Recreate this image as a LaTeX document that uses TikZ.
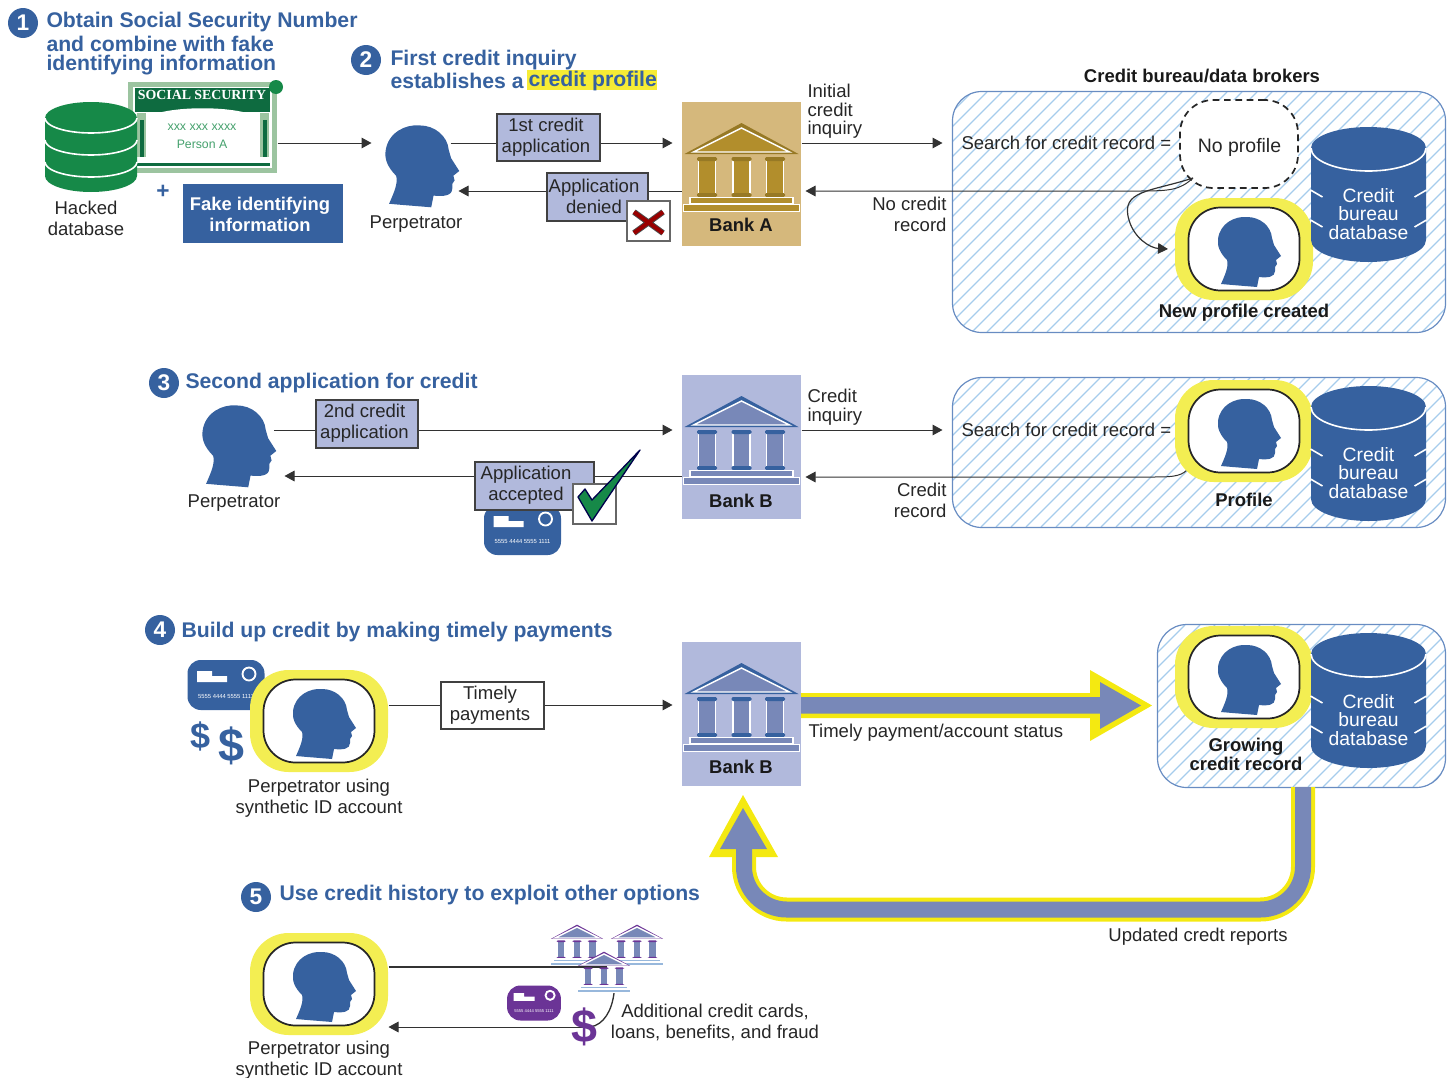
\documentclass[tikz,border=0pt]{standalone}
\usepackage{fontspec}
\setmainfont{Liberation Sans}
\newfontfamily\cardserif{Liberation Serif}
\usetikzlibrary{arrows.meta}

\definecolor{sfblue}{RGB}{54,97,159}
\definecolor{boxlilac}{RGB}{177,185,220}
\definecolor{arrowgrey}{RGB}{120,136,184}
\definecolor{framey}{RGB}{243,238,82}
\definecolor{arrowy}{RGB}{244,233,17}
\definecolor{hatchblue}{RGB}{166,204,236}
\definecolor{edgeblue}{RGB}{104,140,194}
\definecolor{banktan}{RGB}{213,184,124}
\definecolor{bankgold}{RGB}{178,142,44}
\definecolor{dbgreen}{RGB}{22,137,72}
\definecolor{ssndark}{RGB}{14,107,64}
\definecolor{ssnpale}{RGB}{156,196,160}
\definecolor{cardpurple}{RGB}{107,52,150}
\definecolor{linegrey}{RGB}{50,50,50}

\tikzset{every picture/.style={line width=0.75pt}}
\tikzset{
  every pic/.style={yscale=-1},
  boxsize/.style 2 args={minimum width=#1*0.75pt,minimum height=#2*0.75pt,inner sep=0pt},
  lab/.style={font=\fontsize{13.9}{15.8}\selectfont,text=black!85,align=center,inner sep=0pt,yshift=-1.8pt},
  labtight/.style={font=\fontsize{13.9}{13.9}\selectfont,text=black!85,inner sep=0pt,yshift=-1.5pt},
  labbold/.style={font=\bfseries\fontsize{13.85}{14}\selectfont,text=black!90,align=center,inner sep=0pt,yshift=-0.5pt},
  stephead/.style={font=\bfseries\fontsize{15.9}{16}\selectfont,text=sfblue,anchor=west,inner sep=0pt,yshift=-1pt},
  stepdot/.style={circle,fill=sfblue,text=white,font=\bfseries\fontsize{17}{17}\selectfont,minimum size=22.5pt,inner sep=0pt},
  flow/.style={-{Triangle[length=7.5pt,width=8pt]},line width=0.75pt,color=linegrey},
  appbox/.style={draw=black!75,fill=boxlilac,line width=0.9pt},
  panel/.style={draw=edgeblue,line width=0.9pt,rounded corners=22pt},
  hatch/.style={draw=hatchblue,line width=0.95pt},
  % bank colours, blue is the plain look
  bankdark/.style={fill=sfblue},
  bankmid/.style={fill=arrowgrey},
  bankstep/.style={fill=arrowgrey},
  goldbank/.style={bankdark/.style={fill=bankgold!85!black},bankmid/.style={fill=bankgold},bankstep/.style={fill=bankgold}},
  purplebank/.style={bankdark/.style={fill=cardpurple},bankmid/.style={fill=arrowgrey},bankstep/.style={fill=hatchblue!70!arrowgrey}},
  head/.pic={
    \fill[sfblue] (-29,34) .. controls (-25,25) and (-21,16) .. (-23,10)
      .. controls (-30,3) and (-33,-4) .. (-32,-11)
      .. controls (-30,-27) and (-15,-34) .. (-3,-33)
      .. controls (10,-33) and (21,-24) .. (22,-12)
      -- (24,-5) -- (31,6) -- (26,10) -- (27,14) -- (25,17) -- (25,21)
      .. controls (25,27) and (18,28) .. (9,27) -- (7,37) .. controls (-5,36) and (-18,35) .. (-29,34) -- cycle;
  },
  framedhead/.pic={
    \node (-out) [boxsize={138}{102},fill=framey,rounded corners=29pt] at (0,0) {};
    \node (-in) [boxsize={111}{83},fill=white,draw=black!85,line width=1.3pt,rounded corners=24pt] at (0,0) {};
    \pic at (6,1) {head};
  },
  db/.pic={
    \fill[sfblue] (-57.5,21) -- (-57.5,113) arc[start angle=180,end angle=0,x radius=57.5,y radius=22] -- (57.5,21) arc[start angle=0,end angle=-180,x radius=57.5,y radius=21] -- cycle;
    \draw[white,line width=1.2pt] (-57.5,21) arc[start angle=180,end angle=0,x radius=57.5,y radius=23];
    \foreach \yy in {63,93} {
      \draw[white,line width=1.2pt] (-58,\yy) -- (-46,\yy+7);
      \draw[white,line width=1.2pt] (58,\yy) -- (46,\yy+7);
    }
    \node (-name) [labtight,font=\fontsize{14.5}{13.9}\selectfont,align=center,text=white] at (0,85) {Credit\\bureau\\database};
  },
  numfont/.style={font=\fontsize{4.4}{5}\selectfont},
  cardicon/.pic={
    \fill[#1,rounded corners=10pt] (-38.5,-25) rectangle (38.5,25);
    \fill[white] (-29,-14) -- (-14,-14) -- (-14,-9) -- (1,-9) -- (1,-3) -- (-29,-3) -- cycle;
    \draw[white,line width=1.4pt] (23,-11) circle (6.5);
    \node (-num) [numfont,text=white,inner sep=0pt] at (0,12) {5555 4444 5555 1111};
  },
  bankicon/.pic={
    \path[bankdark] (0,21) -- (57,52) -- (-57,52) -- cycle;
    \path[bankmid,draw=white,line width=1.1pt] (0,26) -- (48,50) -- (-48,50) -- cycle;
    \foreach \cx in {-34.5,0,33.5} {
      \path[bankmid,draw=white,line width=0.9pt] (\cx-8.5,58) rectangle (\cx+8.5,92);
      \path[bankdark,rounded corners=1pt] (\cx-10,55) rectangle (\cx+10,59);
      \path[bankdark,rounded corners=1pt] (\cx-10,91) rectangle (\cx+10,95);
    }
    \path[bankstep,draw=white,line width=0.9pt] (-51.5,95.5) rectangle (51.5,102);
    \path[bankstep,draw=white,line width=0.9pt] (-58,102.5) rectangle (58,109.5);
  }
}
% hatching of a panel: panel name, left start, bottom, height
\newcommand{\hatchpanel}[4]{
	\begin{scope}
	\clip[rounded corners=22pt] (#1.south west) rectangle (#1.north east);
	\foreach \ii in {0,...,52} {\draw[hatch] (#2+15*\ii,#3) -- (#2+#4+15*\ii,#3-#4);}
	\end{scope}
	\draw[panel] (#1.south west) rectangle (#1.north east);
}

\begin{document}
\begin{tikzpicture}[x=0.75pt,y=0.75pt,yscale=-1,xscale=1]
	\useasboundingbox (0,0) rectangle (1453,1078);

	%rows of the connectors
	\coordinate (rowa) at (0,143);
	\coordinate (rowb) at (0,191);
	\coordinate (rowc) at (0,430);
	\coordinate (rowd) at (0,477);
	\coordinate (rowe) at (0,705);
	\coordinate (rowf) at (0,967);
	\coordinate (rowg) at (0,1027);

	%Panels
	\node (panela) [boxsize={492}{240}] at (1199,212) {};
	\node (panelb) [boxsize={492}{149}] at (1199,452.5) {};
	\node (panelc) [boxsize={287}{162}] at (1301.5,706) {};
	\hatchpanel{panela}{702}{332}{240}
	\hatchpanel{panelb}{801}{527}{149}
	\hatchpanel{panelc}{993}{787}{162}
	% Text Node
	\node (brokers) [labbold] at (1202,75) {Credit bureau/data brokers};

	%Banks
	\node (banka) [boxsize={119}{144},fill=banktan] at (741.5,174) {};
	\node (bankb) [boxsize={119}{144},fill=boxlilac] at (741.5,447) {};
	\node (bankc) [boxsize={119}{144},fill=boxlilac] at (741.5,714) {};
	\pic [goldbank] at (741.5,102) {bankicon};
	\pic at (741.5,375) {bankicon};
	\pic at (741.5,642) {bankicon};
	\node (banknamea) [labbold] at (741,224) {Bank A};
	\node (banknameb) [labbold] at (741,500) {Bank B};
	\node (banknamec) [labbold] at (741,766) {Bank B};

	%Head spots that the connectors stop at
	\node (perpa) [boxsize={86}{82}] at (415,164) {};
	\node (perpb) [boxsize={81}{82}] at (243.5,444) {};

	%Step 1
	\node (dota) [stepdot] at (23,23) {1};
	\node (headaa) [stephead] at (46,21) {Obtain Social Security Number};
	\node (headab) [stephead] at (46,43) {and combine with fake};
	\node (headac) [stephead] at (46,64) {identifying information};
	\node (ssn) [boxsize={149}{91},fill=ssnpale] at (202.5,127.5) {};
	\fill[white] (133,87) rectangle (272,168);
	\fill[ssndark] (135,88) rectangle (270,112);
	\fill[white] (146,118) .. controls (165,105) and (240,105) .. (259,118) -- (259,160) -- (146,160) -- cycle;
	\fill[ssnpale] (137,113) rectangle (146,157);
	\fill[ssnpale] (260,113) rectangle (269,157);
	\fill[ssndark] (140,120) rectangle (144,157);
	\fill[ssndark] (263,120) rectangle (267,157);
	\fill[ssndark] (135,163) rectangle (270,166);
	\node (ssndot) [circle,fill=dbgreen,minimum size=10.5pt,inner sep=0pt] at (276,87) {};
	\node (ssnname) [font=\cardserif\bfseries\fontsize{10.4}{11}\selectfont,text=white,inner sep=0pt] at (202,95) {SOCIAL SECURITY};
	\node (ssnnum) [font=\fontsize{9.3}{10}\selectfont,text=dbgreen!80!white,inner sep=0pt] at (202,127) {xxx xxx xxxx};
	\node (ssnperson) [font=\fontsize{9.2}{10}\selectfont,text=dbgreen!80!white,inner sep=0pt] at (202,144) {Person A};

	%Shape: green database
	\fill[dbgreen] (45,118) -- (45,176) arc[start angle=180,end angle=0,x radius=46,y radius=16] -- (137,118) arc[start angle=0,end angle=-180,x radius=46,y radius=16] -- cycle;
	\foreach \yy in {118,140,162} {
		\draw[white,line width=1.2pt] (45,\yy) arc[start angle=180,end angle=0,x radius=46,y radius=15];
	}
	\node (hacked) [lab] at (86,216) {Hacked\\database};
	\node (plus) [font=\bfseries\fontsize{17}{17}\selectfont,text=sfblue,inner sep=0pt] at (163,192) {+};
	\node (fake) [boxsize={160}{59},fill=sfblue] at (263,213.5) {};
	\node (fakename) [lab,font=\bfseries\fontsize{13.8}{15.8}\selectfont,text=white] at (260,212) {Fake identifying\\information};

	\draw[flow] (ssn.east |- rowa) -- (perpa.west |- rowa);

	%Step 2
	\node (dotb) [stepdot] at (366,60) {2};
	\node (headba) [stephead] at (390,59) {First credit inquiry};
	\node (highlight) [boxsize={130}{20},fill=arrowy!85!white] at (592,80) {};
	\node (headbb) [stephead] at (390,80) {establishes a};
	\node (headbc) [stephead] at (528,80) {credit profile};
	\draw[flow,shorten <=-6pt,shorten >=6.75pt] (perpa.east |- rowa) -- (banka.west |- rowa);
	\draw[flow] (banka.west |- rowb) -- (perpa.east |- rowb);
	\pic [scale=1.17] at (423,164) {head};
	\node (perpaname) [lab] at (416,222) {Perpetrator};
	\node (firstapp) [appbox,boxsize={103}{47}] at (548.5,137.5) {};
	\node (firstname) [lab] at (546,135) {1st credit\\application};
	\node (denied) [appbox,boxsize={101}{48}] at (597.5,197) {};
	\node (deniedname) [lab] at (594,194) {Application\\denied};
	\node (crossbox) [boxsize={43}{40},fill=white,draw=black!60,line width=0.9pt] at (648.5,221) {};
	\draw[black!70,line width=4.4pt] (634,212) -- (663,233) (663,212) -- (634,233);
	\draw[red!60!black,line width=3pt] (634,212) -- (663,233) (663,212) -- (634,233);

	%Connectors to the bureau
	\draw[flow,shorten >=7.5pt] (banka.east |- rowa) -- (panela.west |- rowa);
	\node (inita) [labtight,align=left,anchor=north west] at (807,82) {Initial\\credit\\inquiry};
	\node (searcha) [lab,anchor=west] at (961,140.5) {Search for credit record =};
	\node (noprofile) [boxsize={118}{88},fill=white,draw=black!85,dash pattern=on 5pt off 3.5pt,line width=1.3pt,rounded corners=25pt] at (1239,144) {};
	\node (noprofilename) [lab,font=\fontsize{14.6}{15.8}\selectfont] at (1239.5,145) {No profile};
	\coordinate (noptail) at (1193,178);
	\draw[flow,shorten >=3pt] (noptail) .. controls (1180,190) and (1170,191) .. (1140,191) -- (banka.east |- rowb);
	\coordinate (newtip) at (1168,249);
	\draw[flow,line width=0.9pt] (noptail) .. controls (1150,192) and (1120,190) .. (1129,220) .. controls (1134,238) and (1150,248) .. (newtip);
	\node (nocredit) [lab,align=right,anchor=east] at (947,212) {No credit\\record};
	\pic (framea) at (1244,249) {framedhead};
	\pic at (1368.5,127) {db};
	\node (newprofile) [labbold] at (1244,312) {New profile created};

	%Step 3
	\node (dotc) [stepdot] at (164,383) {3};
	\node (headc) [stephead] at (185,382) {Second application for credit};
	\draw[flow,shorten <=-8pt,shorten >=6.75pt] (perpb.east |- rowc) -- (bankb.west |- rowc);
	\draw[flow] (bankb.west |- rowd) ++(0,-1) -- (perpb.east |- 0,476);
	\pic [scale=1.17] at (240,444) {head};
	\node (perpbname) [lab] at (234,501) {Perpetrator};
	\node (secondapp) [appbox,boxsize={102}{48}] at (367,424) {};
	\node (secondname) [lab] at (364.5,421) {2nd credit\\application};
	\pic (cardb) at (522.5,530) {cardicon=sfblue};
	\node (accepted) [appbox,boxsize={119}{48}] at (534.5,486) {};
	\node (acceptedname) [lab] at (526,483) {Application\\accepted};
	\node (checkbox) [boxsize={43}{40},fill=white,draw=black!60,line width=0.9pt] at (594.5,504) {};
	\draw[draw=black!70!blue,fill=dbgreen,line width=1pt,line join=round] (578,497) -- (585,489) -- (592,500) -- (640,450) -- (592,521) -- cycle;

	\draw[flow,shorten >=7.5pt] (bankb.east |- rowc) -- (panelb.west |- rowc);
	\node (inqb) [labtight,align=left,anchor=north west] at (807,387) {Credit\\inquiry};
	\node (searchb) [lab,anchor=west] at (961,427.5) {Search for credit record =};
	\coordinate (proftail) at (1187,470);
	\draw[flow,shorten >=3pt] (proftail) .. controls (1180,477) and (1170,477) .. (1150,477) -- (bankb.east |- rowd);
	\node (recordb) [lab,align=right,anchor=east] at (947,498) {Credit\\record};
	\pic (frameb) at (1244,431) {framedhead};
	\pic at (1368.5,386) {db};
	\node (profile) [labbold] at (1244,499) {Profile};

	%Step 4
	\node (dotd) [stepdot] at (160,630) {4};
	\node (headd) [stephead] at (181,631) {Build up credit by making timely payments};
	\pic (cardc) at (226,685) {cardicon=sfblue};
	\node (dollara) [font=\bfseries\fontsize{27}{27}\selectfont,text=sfblue,inner sep=0pt] at (201,736) {\$};
	\node (dollarb) [font=\bfseries\fontsize{35}{35}\selectfont,text=sfblue,inner sep=0pt] at (231,746) {\$};
	\pic (framec) at (319,721) {framedhead};
	\node (perpcname) [lab] at (319,795.5) {Perpetrator using\\synthetic ID account};
	\draw[flow,shorten >=6.75pt] (framec-out.east |- rowe) -- (bankc.west |- rowe);
	\node (timely) [boxsize={103}{47},fill=white,draw=black!75,line width=0.9pt] at (492.5,705.5) {};
	\node (timelyname) [lab] at (490,702.5) {Timely\\payments};

	%Shape: Thick arrow to the bureau
	\fill[arrowy] (801,693) -- (1090,693) -- (1090,670) -- (1152,705.5) -- (1090,741) -- (1090,718) -- (801,718) -- cycle;
	\fill[arrowgrey] (801,697) -- (1100,697) -- (1100,682) -- (1141,705.5) -- (1100,729) -- (1100,713.5) -- (801,713.5) -- cycle;
	\node (statuslab) [lab,anchor=west] at (808,730) {Timely payment/account status};
	\pic (framed) at (1244,677) {framedhead};
	\pic at (1368.5,633) {db};
	\node (growing) [labbold] at (1246,753.5) {Growing\\credit record};

	%Shape: Thick arrow back to the bank
	\draw[arrowy,line width=18pt,rounded corners=32pt] (1303,787) -- (1303,909.5) -- (744,909.5) -- (744,850);
	\fill[arrowy] (743,795) -- (778,857) -- (709,857) -- cycle;
	\draw[arrowgrey,line width=12pt,rounded corners=32pt] (1303,787) -- (1303,909.5) -- (744,909.5) -- (744,845);
	\fill[arrowgrey] (743,808) -- (767,849) -- (720,849) -- cycle;
	\node (updated) [lab] at (1198,934) {Updated credt reports};

	%Step 5
	\node (dote) [stepdot] at (256,897) {5};
	\node (heade) [stephead] at (279,894) {Use credit history to exploit other options};
	\pic (framee) at (319,984) {framedhead};
	\node (perpename) [lab] at (319,1057.5) {Perpetrator using\\synthetic ID account};
	\node (otherbanks) [boxsize={112}{67}] at (607,958.5) {};
	\draw[linegrey,line width=1pt] (framee-out.east |- rowf) -- (otherbanks.center |- rowf);
	\coordinate (extrafoot) at (590,1027);
	\draw[linegrey,line width=1pt] (extrafoot) .. controls (604,1025) and (612,1010) .. (614,993);
	\draw[flow] (extrafoot) -- (framee-out.east |- rowg);
	\pic [purplebank,scale=0.46] at (577,915) {bankicon};
	\pic [purplebank,scale=0.46] at (637,915) {bankicon};
	\pic [purplebank,scale=0.46] at (604,942) {bankicon};
	\pic [scale=0.7,numfont/.style={font=\fontsize{3.1}{4}\selectfont}] (carde) at (534,1003) {cardicon=cardpurple};
	\node (dollarc) [font=\bfseries\fontsize{35}{35}\selectfont,text=cardpurple,inner sep=0pt] at (584,1027) {\$};
	\node (extras) [lab] at (715,1020.5) {Additional credit cards,\\loans, benefits, and fraud};

\end{tikzpicture}
\end{document}
